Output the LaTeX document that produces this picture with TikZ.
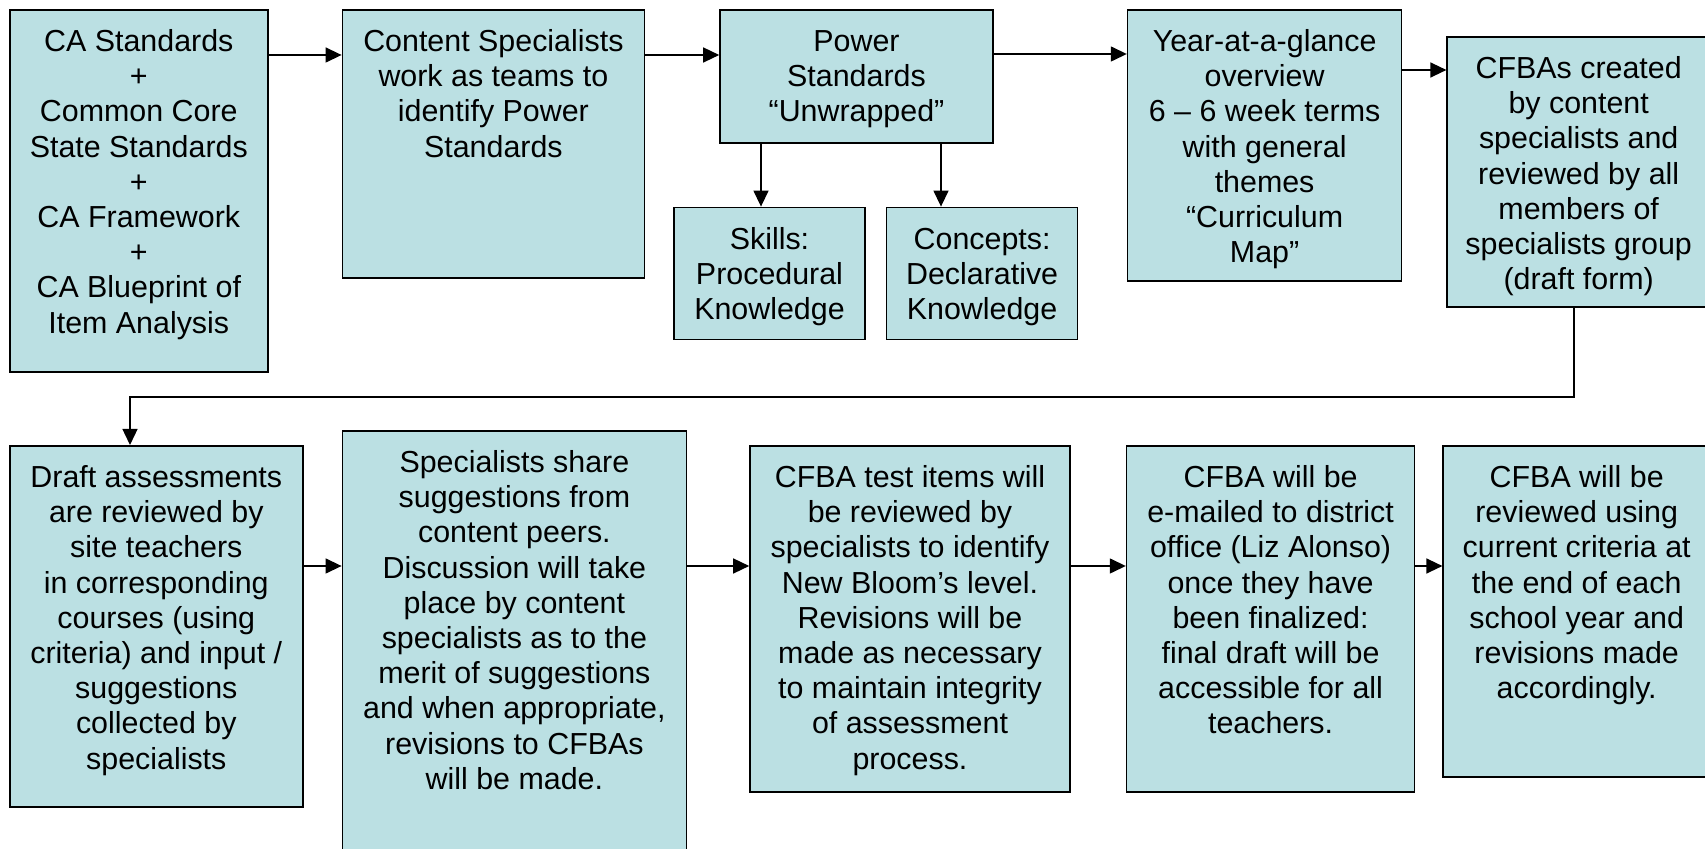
\documentclass[tikz,border=0pt]{standalone}
\usepackage{fontspec}
\setmainfont{Liberation Sans}
\usepackage{tikz}
\usetikzlibrary{arrows.meta}
\usetikzlibrary{positioning}

\definecolor{boxfill}{RGB}{187,224,227}
% text set at the top of a box of given width and height
\newcommand{\toptext}[3]{\parbox[c][#2][t]{#1}{\centering\vspace*{8.5pt}\strut #3\par}}

\begin{document}
\begin{tikzpicture}[x=0.5pt, y=-0.5pt, >={Triangle[length=8pt,width=7.5pt]},
  stage/.style={draw, line width=0.8pt, fill=boxfill, inner sep=0pt,
    font={\fontsize{15.2pt}{17.6pt}\selectfont}},
  link/.style={->, line width=0.7pt}]

\useasboundingbox (0,0) rectangle (1705,849);

% Define nodes, top row
\node (cas) [stage, anchor=north west] at (9,9) {\toptext{129pt}{181pt}{CA Standards\\+\\Common Core\\State Standards\\+\\CA Framework\\+\\CA Blueprint of\\Item Analysis}};
\node (team) [stage, right=36.5pt of cas.north east, anchor=north west] {\toptext{151pt}{134pt}{Content Specialists\\work as teams to\\identify Power\\Standards}};
\node (power) [stage, right=37pt of team.north east, anchor=north west] {\toptext{136.5pt}{66.5pt}{Power\\Standards\\“Unwrapped”}};
\node (year) [stage, right=66.5pt of power.north east, anchor=north west] {\toptext{137pt}{135.5pt}{Year-at-a-glance\\overview\\6 – 6 week terms\\with general\\themes\\“Curriculum\\Map”}};
\node (cfbas) [stage, right=22pt of year.north east, anchor=north west, yshift=-13.5pt] {\toptext{131.5pt}{135pt}{CFBAs created\\by content\\specialists and\\reviewed by all\\members of\\specialists group\\(draft form)}};

\node (skills) [stage, below=31.5pt of power.south west, anchor=north west, xshift=-23pt] {\toptext{95.5pt}{66pt}{Skills:\\Procedural\\Knowledge}};
\node (concepts) [stage, right=10pt of skills.north east, anchor=north west] {\toptext{95.5pt}{66pt}{Concepts:\\Declarative\\Knowledge}};

% Define nodes, bottom row
\node (draft) [stage, anchor=north west] at (9,445) {\toptext{146.5pt}{180.5pt}{Draft assessments\\are reviewed by\\site teachers\\in corresponding\\courses (using\\criteria) and input /\\suggestions\\collected by\\specialists}};
\node (share) [stage, right=19pt of draft.north east, anchor=north west, yshift=7.5pt] {\toptext{172pt}{215pt}{Specialists share\\suggestions from\\content peers.\\Discussion will take\\place by content\\specialists as to the\\merit of suggestions\\and when appropriate,\\revisions to CFBAs\\will be made.}};
\node (items) [stage, right=31pt of share.north east, anchor=north west, yshift=-7.5pt] {\toptext{160pt}{173pt}{CFBA test items will\\be reviewed by\\specialists to identify\\New Bloom’s level.\\Revisions will be\\made as necessary\\to maintain integrity\\of assessment\\process.}};
\node (email) [stage, right=27.5pt of items.north east, anchor=north west] {\toptext{144pt}{173pt}{CFBA will be\\e-mailed to district\\office (Liz Alonso)\\once they have\\been finalized:\\final draft will be\\accessible for all\\teachers.}};
\node (review) [stage, right=13.5pt of email.north east, anchor=north west] {\toptext{133.5pt}{165.5pt}{CFBA will be\\reviewed using\\current criteria at\\the end of each\\school year and\\revisions made\\accordingly.}};

% Draw arrows along the top row
\draw[link] (cas.east |- 0,55) -- (team.west |- 0,55);
\draw[link] (team.east |- 0,55) -- (power.west |- 0,55);
\draw[link] (power.east |- 0,54) -- (year.west |- 0,54);
\draw[link] (year.east |- 0,70) -- (cfbas.west |- 0,70);
\draw[link] (761,0 |- power.south) -- (761,0 |- skills.north);
\draw[link] (941,0 |- power.south) -- (941,0 |- concepts.north);

% Draw arrow back to the bottom row
\coordinate (bend) at (130,397);
\draw[link] (1574,0 |- cfbas.south) |- (bend) -- (bend |- draft.north);

% Draw arrows along the bottom row
\draw[link] (draft.east |- 0,566) -- (share.west |- 0,566);
\draw[link] (share.east |- 0,566) -- (items.west |- 0,566);
\draw[link] (items.east |- 0,566) -- (email.west |- 0,566);
\draw[link] (email.east |- 0,566) -- (review.west |- 0,566);

\end{tikzpicture}
\end{document}
